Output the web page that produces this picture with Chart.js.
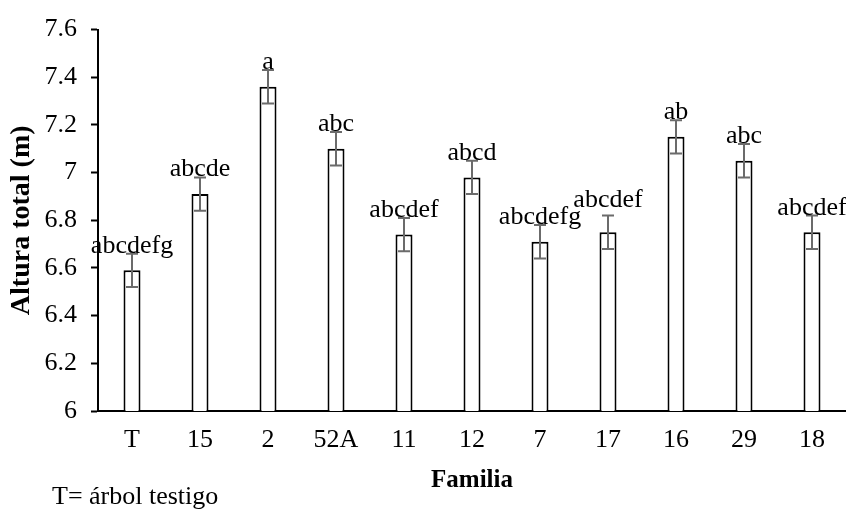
<!DOCTYPE html>
<html>
<head>
<meta charset="utf-8">
<script src="https://cdn.jsdelivr.net/npm/chart.js@4"></script>
<style>
  html, body { margin: 0; padding: 0; background: #fff; }
  #wrap { width: 846px; height: 510px; position: relative; }
</style>
</head>
<body>
<div id="wrap"><canvas id="chart"></canvas></div>
<script>
// --- data ---
const familias = ['T', '15', '2', '52A', '11', '12', '7', '17', '16', '29', '18'];
const altura   = [6.59, 6.91, 7.36, 7.10, 6.74, 6.98, 6.71, 6.75, 7.15, 7.05, 6.75];
const errAlt   = [0.07, 0.07, 0.07, 0.07, 0.07, 0.07, 0.07, 0.07, 0.07, 0.07, 0.07];
const letras   = ['abcdefg', 'abcde', 'a', 'abc', 'abcdef', 'abcd', 'abcdefg', 'abcdef', 'ab', 'abc', 'abcdef'];
const nota     = 'T= árbol testigo';

const SERIF = '"Liberation Serif", "Times New Roman", serif';

// error bars + letter groups + footnote, drawn over the bars
const extras = {
  id: 'extras',
  afterDatasetsDraw(chart) {
    const { ctx, scales: { y } } = chart;
    const bars = chart.getDatasetMeta(0).data;
    const lift = { '17': 8 }; // label nudged up in the original to clear its neighbour
    ctx.save();
    bars.forEach((bar, i) => {
      const hi = y.getPixelForValue(altura[i] + errAlt[i]);
      const lo = y.getPixelForValue(altura[i] - errAlt[i]);
      ctx.strokeStyle = '#6b6b6b';
      ctx.lineWidth = 2;
      ctx.beginPath();
      ctx.moveTo(bar.x, hi); ctx.lineTo(bar.x, lo);
      ctx.moveTo(bar.x - 6, hi); ctx.lineTo(bar.x + 6, hi);
      ctx.moveTo(bar.x - 6, lo); ctx.lineTo(bar.x + 6, lo);
      ctx.stroke();

      ctx.fillStyle = '#000';
      ctx.font = '26px ' + SERIF;
      ctx.textAlign = 'center';
      ctx.textBaseline = 'alphabetic';
      ctx.fillText(letras[i], bar.x, hi - 1 - (lift[familias[i]] || 0));
    });
    ctx.font = '26px ' + SERIF;
    ctx.textAlign = 'left';
    ctx.fillText(nota, 52, 504);
    ctx.restore();
  }
};

const chart = new Chart(document.getElementById('chart'), {
  type: 'bar',
  data: {
    labels: familias,
    datasets: [{
      data: altura,
      backgroundColor: '#fff',
      borderColor: '#000',
      borderWidth: 2,
      barPercentage: 0.25,
      categoryPercentage: 1
    }]
  },
  options: {
    responsive: true,
    maintainAspectRatio: false,
    animation: false,
    devicePixelRatio: 1,
    layout: { padding: { top: 20, right: 0, bottom: 0, left: 0 } },
    plugins: { legend: { display: false }, tooltip: { enabled: false } },
    scales: {
      x: {
        grid: { display: false, drawTicks: false },
        border: { color: '#000', width: 2 },
        ticks: { color: '#000', font: { family: SERIF, size: 26 }, padding: 14, maxRotation: 0 },
        title: { display: true, text: 'Familia', color: '#000',
                 font: { family: SERIF, size: 25, weight: 'bold' }, padding: { top: 0, bottom: 14 } },
        afterFit(s) { s.height = 99; }
      },
      y: {
        min: 6, max: 7.6,
        grid: { drawOnChartArea: false, drawTicks: true, tickLength: 7, color: '#000', tickWidth: 2 },
        border: { color: '#000', width: 2 },
        ticks: {
          stepSize: 0.2, color: '#000', font: { family: SERIF, size: 26 }, padding: 14,
          callback: v => String(+v.toFixed(1))
        },
        title: { display: true, text: 'Altura total (m)', color: '#000',
                 font: { family: SERIF, size: 28, weight: 'bold' }, padding: { top: 5, bottom: 0 } },
        afterFit(s) { s.width = 98; }
      }
    }
  },
  plugins: [extras]
});
</script>
</body>
</html>
